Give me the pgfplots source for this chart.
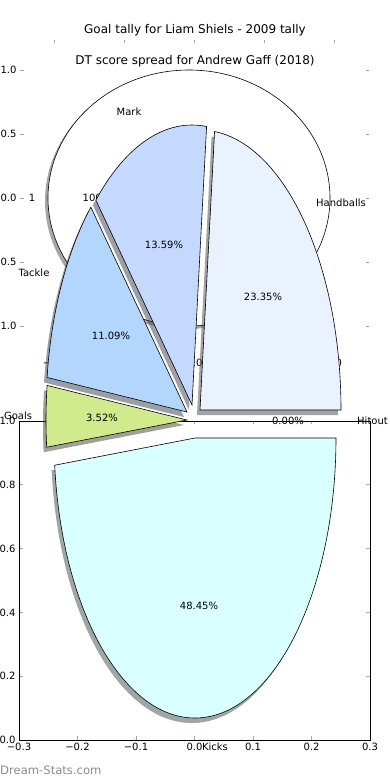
\documentclass[border=0pt]{standalone}
\usepackage{pgfplots}
\pgfplotsset{compat=1.18}
\usepackage{fontspec}
\setmainfont{DejaVu Sans}
\definecolor{cKicks}{RGB}{217,255,255}
\definecolor{cHand}{RGB}{234,241,255}
\definecolor{cMark}{RGB}{197,217,255}
\definecolor{cTackle}{RGB}{179,214,255}
\definecolor{cGoals}{RGB}{208,234,140}
\definecolor{tickgray}{RGB}{165,165,165}
\newcommand{\lf}{\fontsize{10}{12}\selectfont}
% DT score spread (percent)
\def\pHand{23.35}
\def\pMark{13.59}
\def\pTackle{11.09}
\def\pGoals{3.52}
\def\pKicks{48.45}
\def\pHitout{0.00}
\pgfmathsetmacro{\aA}{0}
\pgfmathsetmacro{\aB}{3.6*\pHand}
\pgfmathsetmacro{\aC}{\aB+3.6*\pMark}
\pgfmathsetmacro{\aD}{\aC+3.6*\pTackle}
\pgfmathsetmacro{\aE}{\aD+3.6*\pGoals}
\pgfmathsetmacro{\aF}{\aE+3.6*\pKicks}
% wedge: tipx, tipy (pixels), start, end, colour
\newcommand{\slice}[5]{%
  \fill[#5!30!black, opacity=0.5] ([xshift=-3pt,yshift=-5pt]axis cs:#1,#2) -- ++(#3:141pt and 280pt)
     arc[start angle=#3, end angle=#4, x radius=141pt, y radius=280pt] -- cycle;
  \filldraw[fill=#5, draw=black, line width=0.6pt] (axis cs:#1,#2) -- ++(#3:141pt and 280pt)
     arc[start angle=#3, end angle=#4, x radius=141pt, y radius=280pt] -- cycle;}
\begin{document}
\begin{tikzpicture}
\useasboundingbox (0pt,0pt) rectangle (390pt,780pt);
\clip (0pt,0pt) rectangle (390pt,780pt);
% background axis of the first figure
\begin{axis}[at={(20pt,424pt)}, anchor=south west, scale only axis, width=349pt, height=316pt,
  xmin=-1.25, xmax=1.25, ymin=-1.234, ymax=1.234,
  axis line style={draw=none},
  xtick={-1,-0.5,0,0.5,1}, xticklabels={−1.0,−0.5,0.0,0.5,1.0},
  ytick={-1,-0.5,0,0.5,1}, yticklabels={−1.0,−0.5,0.0,0.5,1.0},
  tick style={tickgray, line width=0.8pt}, major tick length=3.5pt,
  tick label style={font=\lf}, clip=false]
  \addplot[draw=none] coordinates {(0,0)};
\end{axis}
% bottom axis
\begin{axis}[at={(19pt,40pt)}, anchor=south west, scale only axis, width=351pt, height=319pt,
  xmin=-0.3, xmax=0.3, ymin=0, ymax=1,
  xtick={-0.3,-0.2,-0.1,0,0.1,0.2,0.3}, xticklabels={−0.3,−0.2,−0.1,0.0,0.1,0.2,0.3},
  ytick={0,0.2,0.4,0.6,0.8,1}, yticklabels={0.0,0.2,0.4,0.6,0.8,1.0},
  axis line style={black, line width=0.8pt},
  tick style={tickgray, line width=0.8pt}, major tick length=3.5pt,
  tick label style={font=\lf}]
  \addplot[draw=none] coordinates {(0,0)};
\end{axis}
% pies, drawn in pixel coordinates
\begin{axis}[at={(0pt,0pt)}, anchor=south west, scale only axis, width=390pt, height=780pt,
  xmin=0, xmax=390, ymin=0, ymax=780, y dir=reverse, hide axis, clip=false]
  \addplot[draw=none] coordinates {(0,0)};
  % first figure: one slice of 100%
  \fill[black, opacity=0.35] (axis cs:186,201) ellipse [x radius=141pt, y radius=128pt];
  \filldraw[fill=white, draw=black, line width=0.6pt] (axis cs:189,198) ellipse [x radius=141pt, y radius=128pt];
  \node[font=\lf] at (axis cs:32,198) {1};
  \node[font=\lf] at (axis cs:97,198) {100\%};
  % second figure
  \slice{200}{410}{\aA}{\aB}{cHand}
  \slice{192}{405}{\aB}{\aC}{cMark}
  \slice{187}{412}{\aC}{\aD}{cTackle}
  \slice{187}{420}{\aD}{\aE}{cGoals}
  \slice{195}{438}{\aE}{\aF}{cKicks}
  \draw[black, line width=0.6pt] (axis cs:195,421) -- (axis cs:345,421);
  \node[font=\lf] at (axis cs:263,297) {23.35\%};
  \node[font=\lf] at (axis cs:164,245) {13.59\%};
  \node[font=\lf] at (axis cs:111,336) {11.09\%};
  \node[font=\lf] at (axis cs:102,418) {3.52\%};
  \node[font=\lf] at (axis cs:199,606) {48.45\%};
  \node[font=\lf] at (axis cs:288,421) {0.00\%};
  \node[font=\lf] at (axis cs:341,203) {Handballs};
  \node[font=\lf] at (axis cs:129,112) {Mark};
  \node[font=\lf] at (axis cs:34,273) {Tackle};
  \node[font=\lf] at (axis cs:18,416) {Goals};
  \node[font=\lf] at (axis cs:215,747) {Kicks};
  \node[font=\lf, anchor=west, inner sep=0pt] at (axis cs:357,421) {Hitout};
  \node[font=\fontsize{12}{14}\selectfont] at (axis cs:195,30) {Goal tally for Liam Shiels - 2009 tally};
  \node[font=\fontsize{12}{14}\selectfont] at (axis cs:195,61) {DT score spread for Andrew Gaff (2018)};
  \node[font=\fontsize{11.6}{13}\selectfont, text=black!45, anchor=west, inner sep=0pt] at (axis cs:0,770) {Dream-Stats.com};
\end{axis}
\end{tikzpicture}
\end{document}
